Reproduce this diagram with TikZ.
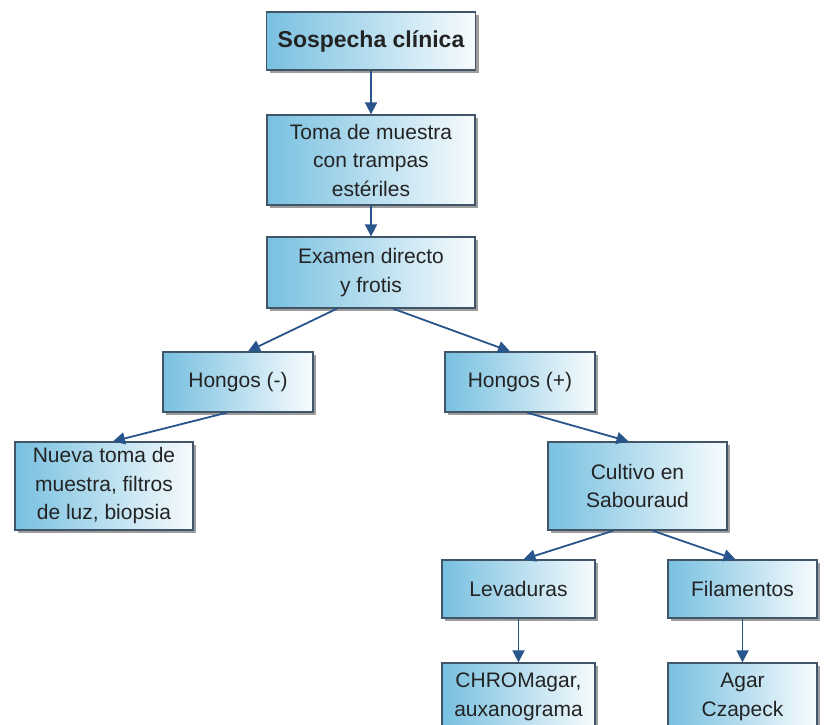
\documentclass[tikz,border=0pt]{standalone}
\usepackage{fontspec}
\setmainfont{Liberation Sans}
\usetikzlibrary{arrows.meta,shadows}
\definecolor{boxblue}{RGB}{120,192,224}
\definecolor{edgecol}{RGB}{65,85,105}
\definecolor{arrcol}{RGB}{40,85,140}
\definecolor{txtcol}{RGB}{35,35,35}
\begin{document}
\begin{tikzpicture}[x=1pt,y=-1pt,
 box/.style={draw=edgecol, line width=1.3pt, left color=boxblue, right color=white!94!boxblue,
   drop shadow={shadow xshift=3pt,shadow yshift=-3pt,fill=black!55,opacity=0.7},
   align=center, text=txtcol, font=\fontsize{21}{28.5}\selectfont, inner sep=0pt},
 conn/.style={draw=arrcol, line width=1.8pt, -{Triangle[length=12pt,width=12pt]}}]
\useasboundingbox (0,0) rectangle (825,725);
\clip (0,0) rectangle (825,725);

\node[box, minimum width=209pt, minimum height=58pt, font=\fontsize{23}{28}\selectfont\bfseries] (sos) at (371,41) {Sospecha clínica};
\node[box, minimum width=208pt, minimum height=90pt] (toma) at (371,160) {Toma de muestra\\con trampas\\estériles};
\node[box, minimum width=208pt, minimum height=71pt] (exam) at (371,272.5) {Examen directo\\y frotis};
\node[box, minimum width=150pt, minimum height=60pt] (hneg) at (238,382) {Hongos (-)};
\node[box, minimum width=150pt, minimum height=60pt] (hpos) at (520,382) {Hongos (+)};
\node[box, minimum width=178pt, minimum height=88pt] (nueva) at (104,486) {Nueva toma de\\muestra, filtros\\de luz, biopsia};
\node[box, minimum width=179pt, minimum height=88pt] (cult) at (637.5,486) {Cultivo en\\Sabouraud};
\node[box, minimum width=153pt, minimum height=58pt] (lev) at (518.5,589) {Levaduras};
\node[box, minimum width=149pt, minimum height=58pt] (fil) at (742.5,589) {Filamentos};
\node[box, minimum width=153pt, minimum height=68pt] (chro) at (518.5,697) {CHROMagar,\\auxanograma};
\node[box, minimum width=149pt, minimum height=68pt] (agar) at (742.5,697) {Agar\\Czapeck};

\draw[conn] (sos.south) -- (toma.north);
\draw[conn] (toma.south) -- (exam.north);
\draw[conn] ([xshift=-34pt]exam.south) -- ([xshift=10pt]hneg.north);
\draw[conn] ([xshift=22pt]exam.south) -- ([xshift=-10pt]hpos.north);
\draw[conn] ([xshift=-11pt]hneg.south) -- ([xshift=9pt]nueva.north);
\draw[conn] ([xshift=7pt]hpos.south) -- ([xshift=-9pt]cult.north);
\draw[conn] ([xshift=-24pt]cult.south) -- ([xshift=5pt]lev.north);
\draw[conn] ([xshift=15pt]cult.south) -- ([xshift=-7pt]fil.north);
\draw[conn] (lev.south) -- (chro.north);
\draw[conn] (fil.south) -- (agar.north);
\end{tikzpicture}
\end{document}
